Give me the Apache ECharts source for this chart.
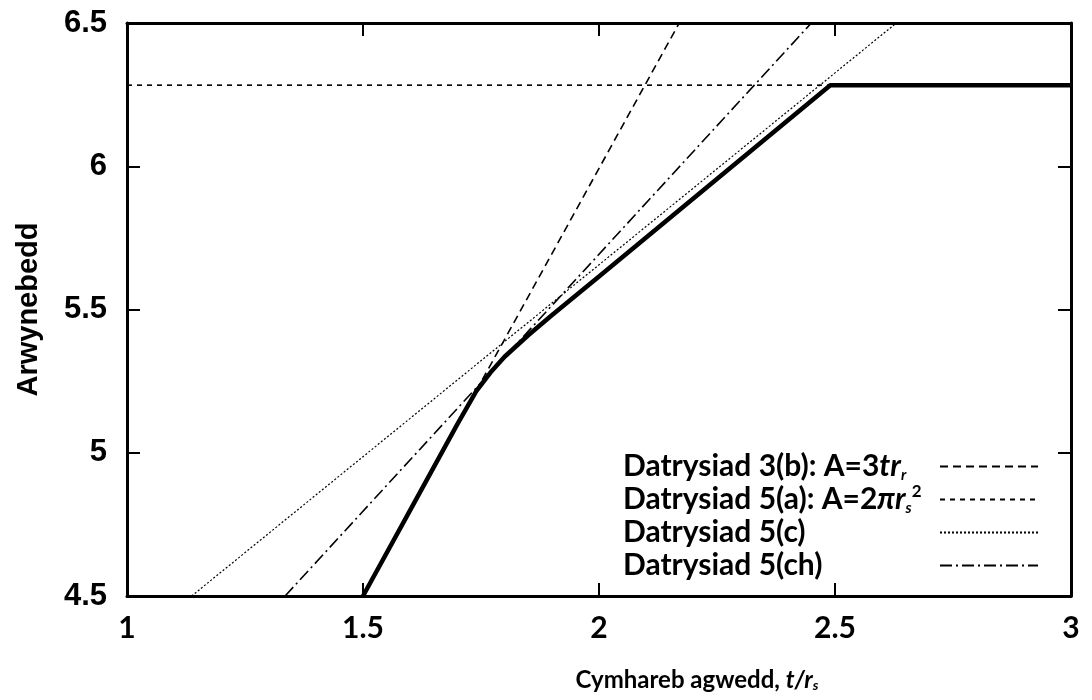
<!DOCTYPE html>
<html>
<head>
<meta charset="utf-8">
<script src="https://cdn.jsdelivr.net/npm/echarts@6/dist/echarts.min.js"></script>
<style>html,body{margin:0;padding:0;background:#fff;}#c{width:1092px;height:700px;}</style>
</head>
<body>
<div id="c"></div>
<script>
// ---- data ----
const xTickLabels = ['1', '1.5', '2', '2.5', '3'];
const yTickLabels = ['4.5', '5', '5.5', '6', '6.5'];

// thick solid curve (unlabelled)
const curveX = [1.5, 1.6, 1.7, 1.74, 1.77, 1.8, 1.85, 1.9, 2.0, 2.49, 3.0];
const curveY = [4.5, 4.8, 5.1, 5.215, 5.28, 5.335, 5.41, 5.48, 5.615, 6.283, 6.283];
// Datrysiad 3(b): A=3tr_r
const line3bX = [1.5, 2.17];
const line3bY = [4.5, 6.5];
// Datrysiad 5(a): A=2πr_s²
const line5aX = [1, 3];
const line5aY = [6.283, 6.283];
// Datrysiad 5(c)
const line5cX = [1.137, 2.63];
const line5cY = [4.5, 6.5];
// Datrysiad 5(ch)
const line5chX = [1.335, 2.45];
const line5chY = [4.5, 6.5];

const names = ['Datrysiad 3(b): A=3tr_r', 'Datrysiad 5(a): A=2πr_s^2', 'Datrysiad 5(c)', 'Datrysiad 5(ch)'];
const legendRich = {
  'Datrysiad 3(b): A=3tr_r': '{t|Datrysiad 3(b): A=3}{i|tr}{sub|r}',
  'Datrysiad 5(a): A=2πr_s^2': '{t|Datrysiad 5(a): A=2}{i|πr}{sub|s}{sup|2}',
  'Datrysiad 5(c)': '{t|Datrysiad 5(c)}',
  'Datrysiad 5(ch)': '{t|Datrysiad 5(ch)}'
};

function pairs(xs, ys) { return xs.map((x, i) => [x, ys[i]]); }

const FONT = 'Lato';
const chart = echarts.init(document.getElementById('c'), null, {renderer: 'canvas'});

const axisCommon = {
  interval: 0.5,
  axisLine: {show: true, onZero: false, lineStyle: {color: '#000', width: 3}},
  axisTick: {show: true, inside: true, length: 13, lineStyle: {color: '#000', width: 2}},
  splitLine: {show: false}
};

const option = {
  animation: false,
  backgroundColor: '#fff',
  grid: {left: 127, right: 21, top: 23, bottom: 104, containLabel: false},
  xAxis: [
    Object.assign({}, axisCommon, {
      type: 'value', position: 'bottom', min: 1, max: 3,
      axisLabel: {
        margin: 17, color: '#000', fontFamily: FONT, fontWeight: 'bold', fontSize: 30,
        formatter: (v) => xTickLabels[Math.round((v - 1) / 0.5)]
      },
      name: '{n|Cymhareb agwedd, }{i|t/r}{sub|s}',
      nameLocation: 'middle', nameGap: 72,
      nameTextStyle: {
        padding: [0, 0, 0, 196],
        rich: {
          n: {fontFamily: FONT, fontWeight: 'bold', fontSize: 24, color: '#000'},
          i: {fontFamily: FONT, fontWeight: 'bold', fontStyle: 'italic', fontSize: 24, color: '#000'},
          sub: {fontFamily: FONT, fontWeight: 'bold', fontStyle: 'italic', fontSize: 14, color: '#000', verticalAlign: 'bottom', padding: [10, 0, 0, 0]}
        }
      }
    }),
    Object.assign({}, axisCommon, {
      type: 'value', position: 'top', min: 1, max: 3, axisLabel: {show: false}
    })
  ],
  yAxis: [
    Object.assign({}, axisCommon, {
      type: 'value', position: 'left', min: 4.5, max: 6.5,
      axisLabel: {
        margin: 20, color: '#000', fontFamily: 'Liberation Sans', fontWeight: 'bold', fontSize: 31,
        formatter: (v) => yTickLabels[Math.round((v - 4.5) / 0.5)]
      },
      name: 'Arwynebedd', nameLocation: 'middle', nameGap: 84, nameRotate: 90,
      nameTextStyle: {fontFamily: 'Liberation Sans', fontWeight: 'bold', fontSize: 29, color: '#000'}
    }),
    Object.assign({}, axisCommon, {
      type: 'value', position: 'right', min: 4.5, max: 6.5, axisLabel: {show: false}
    })
  ],
  legend: {
    data: names,
    orient: 'vertical',
    left: 618, top: 445,
    align: 'right',
    itemWidth: 98, itemHeight: 14, itemGap: 0,
    itemStyle: {opacity: 0, borderWidth: 0},
    formatter: (n) => legendRich[n],
    textStyle: {
      width: 312,
      lineHeight: 33,
      rich: {
        t: {fontFamily: FONT, fontWeight: 'bold', fontSize: 30, color: '#000', align: 'left'},
        i: {fontFamily: FONT, fontWeight: 'bold', fontStyle: 'italic', fontSize: 30, color: '#000', align: 'left'},
        sub: {fontFamily: FONT, fontWeight: 'bold', fontStyle: 'italic', fontSize: 15, color: '#000', align: 'left', verticalAlign: 'bottom', padding: [13, 0, 0, 0]},
        sup: {fontFamily: FONT, fontWeight: 'bold', fontSize: 17, color: '#000', align: 'left', verticalAlign: 'top', padding: [0, 0, 11, 0]}
      }
    }
  },
  series: [
    {
      name: 'curve', type: 'line', data: pairs(curveX, curveY), showSymbol: false, symbol: 'none',
      lineStyle: {color: '#000', width: 4.5, type: 'solid'}, z: 5
    },
    {
      name: names[0], type: 'line', data: pairs(line3bX, line3bY), symbol: 'none',
      lineStyle: {color: '#000', width: 1.6, type: [8, 5]}, itemStyle: {color: '#000'}, z: 3
    },
    {
      name: names[1], type: 'line', data: pairs(line5aX, line5aY), symbol: 'none',
      lineStyle: {color: '#000', width: 1.6, type: [5, 5]}, itemStyle: {color: '#000'}, z: 3
    },
    {
      name: names[2], type: 'line', data: pairs(line5cX, line5cY), symbol: 'none',
      lineStyle: {color: '#000', width: 1.2, type: [2, 2]}, itemStyle: {color: '#000'}, z: 3
    },
    {
      name: names[3], type: 'line', data: pairs(line5chX, line5chY), symbol: 'none',
      lineStyle: {color: '#000', width: 1.6, type: [12, 4, 2, 4]}, itemStyle: {color: '#000'}, z: 3
    }
  ]
};
chart.setOption(option);
</script>
</body>
</html>
